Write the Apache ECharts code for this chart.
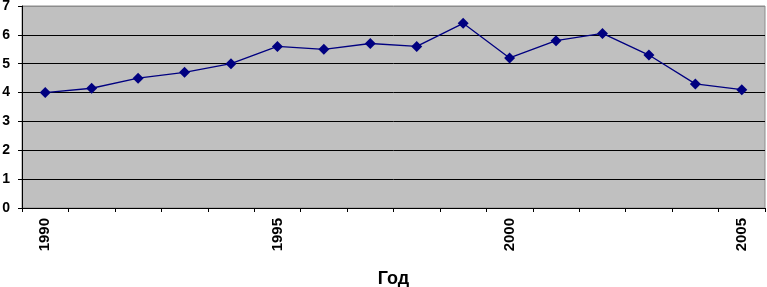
<!DOCTYPE html>
<html>
<head>
<meta charset="utf-8">
<script src="https://cdn.jsdelivr.net/npm/echarts@6/dist/echarts.min.js"></script>
<style>
  html, body { margin: 0; padding: 0; background: #fff; }
  #chart { width: 767px; height: 287px; }
</style>
</head>
<body>
<div id="chart"></div>
<script>
const years = ['1990', '1991', '1992', '1993', '1994', '1995', '1996', '1997',
  '1998', '1999', '2000', '2001', '2002', '2003', '2004', '2005'];
const values = [4.0, 4.15, 4.5, 4.7, 5.0, 5.6, 5.5, 5.7, 5.6, 6.4, 5.2, 5.8, 6.05, 5.3, 4.3, 4.1];
const axisName = 'Год';

const font = 'Liberation Sans, Arial, sans-serif';
const myChart = echarts.init(document.getElementById('chart'));
myChart.setOption({
  animation: false,
  grid: {
    left: 22, right: 2, top: 6, bottom: 79,
    outerBoundsMode: 'none',
    containLabel: false,
    show: true,
    backgroundColor: '#c0c0c0',
    borderColor: '#8c8c8c',
    borderWidth: 1
  },
  xAxis: {
    type: 'category',
    data: years,
    boundaryGap: true,
    name: axisName,
    nameLocation: 'middle',
    nameGap: 62,
    nameTextStyle: { fontFamily: font, fontWeight: 'bold', fontSize: 18, color: '#000' },
    axisLine: { lineStyle: { color: '#000', width: 1 } },
    axisTick: { show: true, interval: 0, length: 4, lineStyle: { color: '#000' } },
    axisLabel: {
      interval: 4,
      rotate: 90,
      margin: 10,
      fontFamily: font, fontWeight: 'bold', fontSize: 15, color: '#000'
    },
    splitLine: { show: false }
  },
  yAxis: {
    type: 'value',
    min: 0, max: 7, interval: 1,
    axisLine: { show: true, lineStyle: { color: '#000', width: 1 } },
    axisTick: { show: true, length: 4, lineStyle: { color: '#000' } },
    axisLabel: { margin: 12, fontFamily: font, fontWeight: 'bold', fontSize: 14, color: '#000' },
    splitLine: {
      show: true,
      lineStyle: {
        color: ['#000', '#000', '#000', '#000', '#000', '#000', '#000', '#8c8c8c'],
        width: 1
      }
    }
  },
  series: [{
    type: 'line',
    data: values,
    symbol: 'diamond',
    symbolSize: 11,
    lineStyle: { color: '#000080', width: 1.3 },
    itemStyle: { color: '#000080' }
  }]
});
</script>
</body>
</html>
